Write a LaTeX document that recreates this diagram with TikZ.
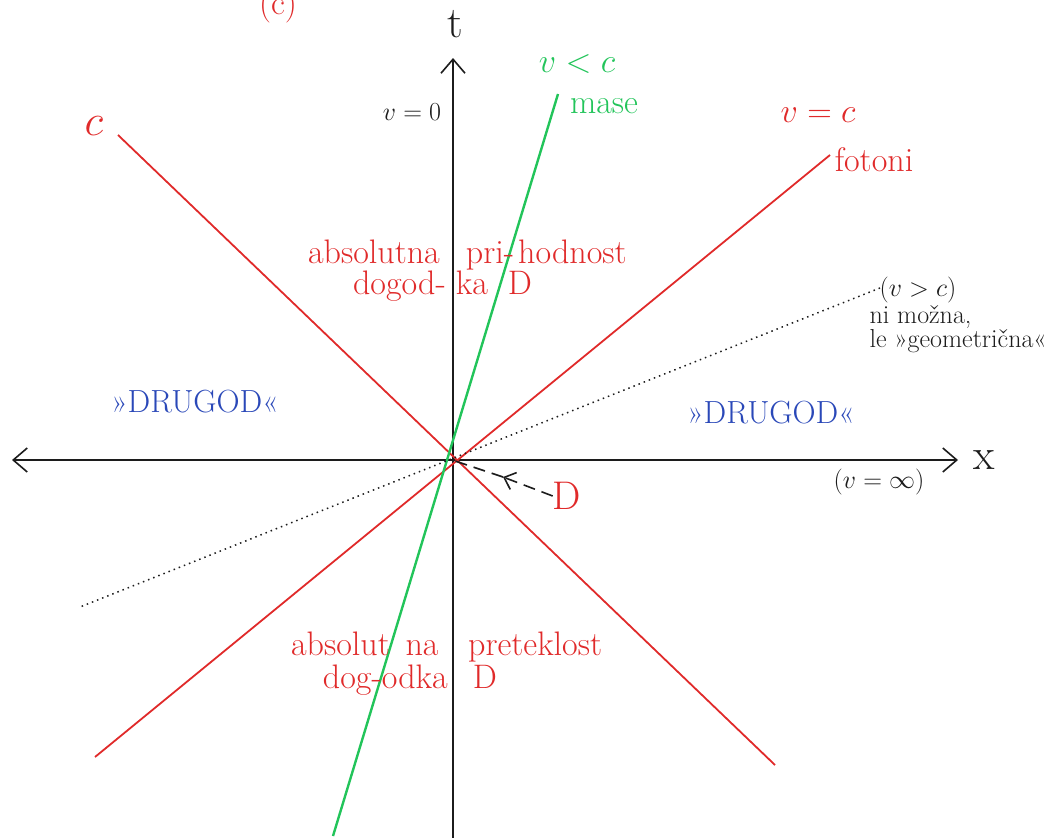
\RequirePackage{fix-cm}
\documentclass[tikz,border=0pt]{standalone}
\usepackage{fontspec}
\usetikzlibrary{arrows.meta}

\definecolor{inkRed}{HTML}{E02A2A}
\definecolor{inkGreen}{HTML}{22C45A}
\definecolor{inkBlue}{HTML}{2A48B8}
\definecolor{inkBlack}{HTML}{1C1C1C}

\begin{document}
\begin{tikzpicture}[x=1pt,y=-1pt,font=\fontsize{34}{38}\selectfont,
  >={Straight Barb[length=14pt,width=24pt,line width=1.6pt]},
  axis/.style={inkBlack,line width=1.6pt},
  cone/.style={inkRed,line width=1.8pt},
  redtext/.style={text=inkRed,align=center,inner sep=0pt},
  bluetext/.style={text=inkBlue,font=\fontsize{32}{36}\selectfont},
  note/.style={text=inkBlack,font=\fontsize{26}{30}\selectfont},
  big/.style={font=\fontsize{44}{46}\selectfont}]
  \useasboundingbox (0,0) rectangle (1050,838);
  \coordinate (O) at (452,460);

  % axes
  \coordinate (xl) at (12,460);
  \coordinate (xr) at (958,460);
  \coordinate (tb) at (453,838);
  \coordinate (tt) at (453,58);
  \draw[axis,<->] (xl) -- (xr);
  \draw[axis,->] (tb) -- (tt);
  \node[text=inkBlack,big] (tlab) at (455,24) {t};
  \node[text=inkBlack,big] (xlab) at (984,460) {x};

  % light cone and world lines
  \coordinate (c1a) at (118,135);
  \coordinate (c1b) at (775,765);
  \coordinate (c2a) at (830,155);
  \coordinate (c2b) at (95,757);
  \coordinate (ma) at (558,94);
  \coordinate (mb) at (333,836);
  \coordinate (ga) at (880,288);
  \coordinate (gb) at (80,607);
  \draw[cone] (c1a) -- (c1b);
  \draw[cone] (c2a) -- (c2b);
  \draw[inkGreen,line width=2.4pt] (ma) -- (mb);
  \draw[inkBlack,line width=1.5pt,dash pattern=on 1.5pt off 4pt] (ga) -- (gb);

  % labels
  \node[text=inkRed,big] (ctop) at (94,126) {$c$};
  \node[note] (v0) at (412,112) {$v=0$};
  \node[text=inkGreen] (vlc) at (577,64) {$v<c$};
  \node[text=inkGreen] (mase) at (604,106) {mase};
  \node[redtext] (veqc) at (818,115) {$v=c$};
  \node[redtext] (fot) at (874,160) {fotoni};

  \node[redtext,anchor=base east] (futa) at (440,263) {absolutna};
  \node[redtext,anchor=base] (futb) at (490,263) {pri-};
  \node[redtext,anchor=base west] (futc) at (518,263) {hodnost};
  \node[redtext,anchor=base east] (futd) at (446,294) {dogod-};
  \node[redtext,anchor=base] (fute) at (472,294) {ka};
  \node[redtext,anchor=base] (futf) at (520,294) {D};

  \node[redtext,anchor=base east] (pasta) at (390,655) {absolut};
  \node[redtext,anchor=base] (pastb) at (422,655) {na};
  \node[redtext,anchor=base west] (pastc) at (468,655) {preteklost};
  \node[redtext,anchor=base east] (pastd) at (448,688) {dog-odka};
  \node[redtext,anchor=base] (paste) at (485,688) {D};

  \node[note] (vgc) at (918,290) {($v>c$)};
  \node[note,anchor=west] (nimoz) at (866,317) {ni možna,};
  \node[note,anchor=west] (geom) at (866,341) {le »geometrična«};
  \node[bluetext] (drl) at (195,402) {»DRUGOD«};
  \node[bluetext] (drr) at (771,413) {»DRUGOD«};
  \node[note] (vinf) at (879,482) {($v=\infty$)};
  \node[redtext,font=\fontsize{40}{42}\selectfont] (D) at (567,496) {D};
  \node[redtext] (cpart) at (278,6) {(c)};

  % event D
  \coordinate (Dmid) at (503,477);
  \draw[inkBlack,line width=1.6pt,dash pattern=on 12pt off 7pt,
    -{Straight Barb[length=10pt,width=18pt,line width=1.6pt]}] (D.west) -- (Dmid);
  \draw[inkBlack,line width=1.6pt,dash pattern=on 12pt off 7pt] (Dmid) -- (O);
\end{tikzpicture}
\end{document}
